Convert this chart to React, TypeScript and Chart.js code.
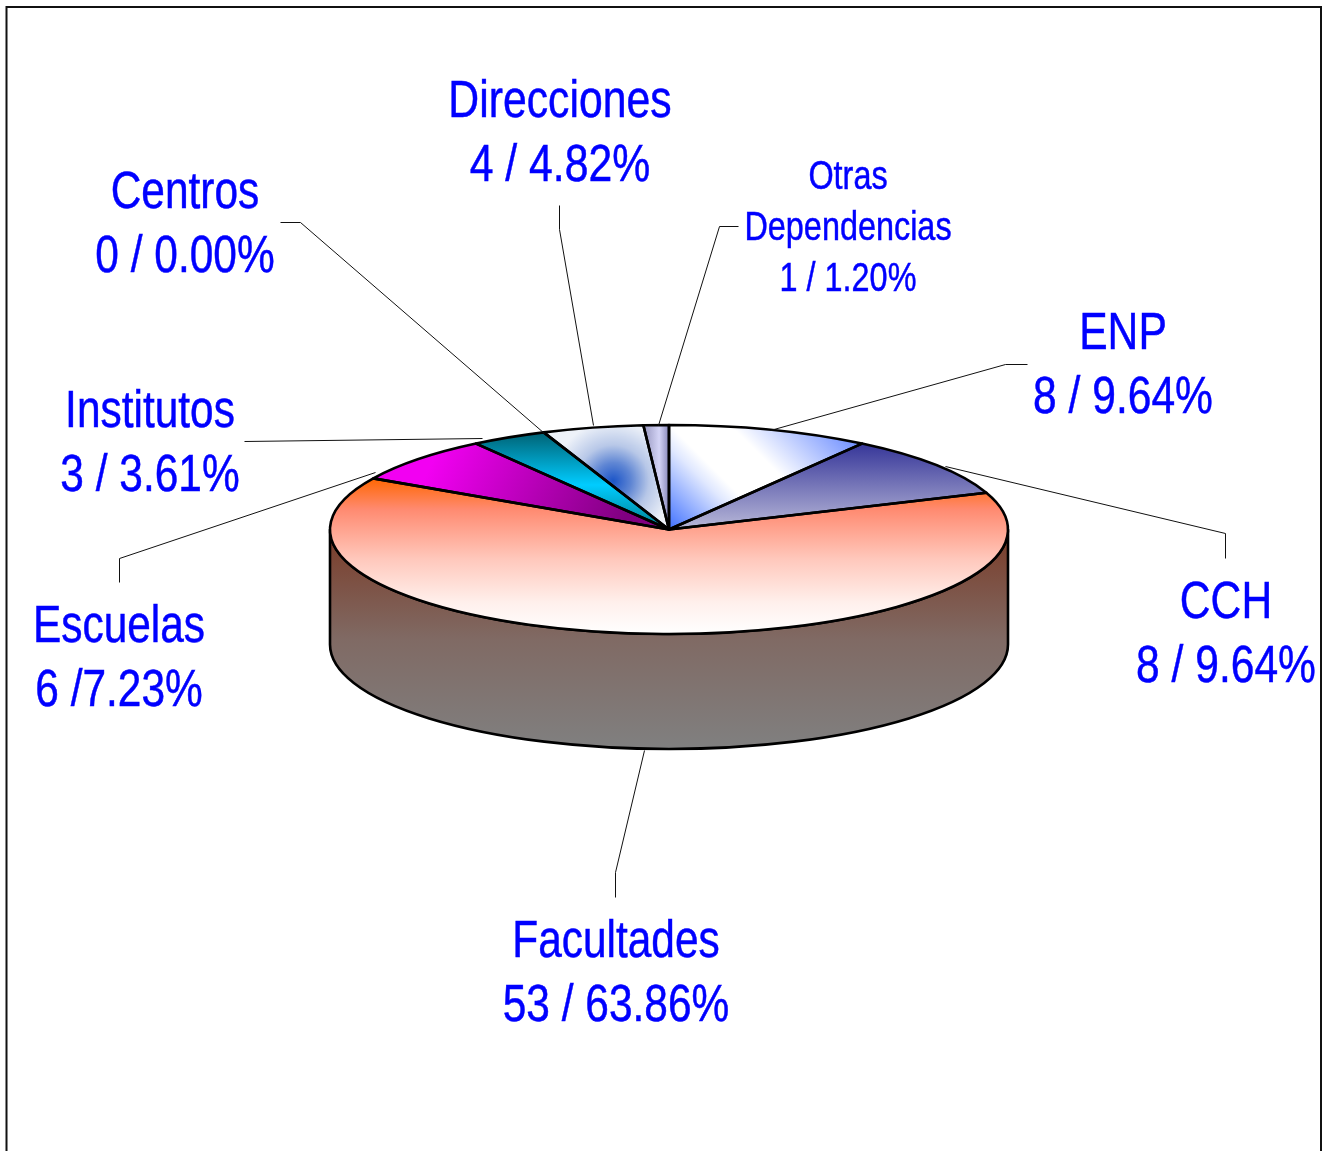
import React, { useEffect, useRef } from "react";
import { Chart, registerables } from "chart.js";

Chart.register(...registerables);

const categories = ["ENP", "CCH", "Facultades", "Escuelas", "Institutos", "Centros", "Direcciones", "Otras Dependencias"];
const counts = [8, 8, 53, 6, 3, 0, 4, 1];
const labelLines = [
  ["ENP", "8 / 9.64%"],
  ["CCH", "8 / 9.64%"],
  ["Facultades", "53 / 63.86%"],
  ["Escuelas", "6 /7.23%"],
  ["Institutos", "3 / 3.61%"],
  ["Centros", "0 / 0.00%"],
  ["Direcciones", "4 / 4.82%"],
  ["Otras", "Dependencias", "1 / 1.20%"],
];

// layout of the labels: centre x, first baseline, line step, font size, horizontal condensing
const labelPlaces = [
  [1123, 349, 64, 51, 0.835],
  [1226, 618, 64, 51, 0.835],
  [616, 957, 64, 51, 0.832],
  [119, 642, 64, 51, 0.832],
  [150, 427, 64, 51, 0.832],
  [185, 208, 64, 51, 0.832],
  [560, 117, 64, 51, 0.838],
  [848, 189, 51, 40, 0.81],
];
const leaderLines = [
  [[1027, 364], [1005, 364], [770, 430]],
  [[1225, 558], [1225, 533], [945, 466]],
  [[615, 897], [615, 872], [644, 750]],
  [[119, 582], [119, 558], [375, 472]],
  [[244, 441], [482, 438]],
  [[280, 222], [300, 222], [544, 433]],
  [[559, 205], [559, 229], [593, 425]],
  [[738, 226], [719, 226], [658, 425]],
];

const W = 1328;
const H = 1151;
const CX = 669;
const CY = 529.5;
const RX = 339;
const RY = 104.5;
const K = RY / RX;
const DEPTH = 115;

const unsquash = (y: number) => CY + (y - CY) / K;

// A linear gradient given in screen coordinates, for a context squashed by K
function screenGradient(ctx: CanvasRenderingContext2D, x0: number, y0: number, x1: number, y1: number, stops: [number, string][]) {
  const gx = x1 - x0;
  const gy = y1 - y0;
  const g2 = gx * gx + gy * gy;
  const vx = gx / g2;
  const vy = (K * gy) / g2;
  const v2 = vx * vx + vy * vy;
  const sy0 = unsquash(y0);
  const gr = ctx.createLinearGradient(x0, sy0, x0 + vx / v2, sy0 + vy / v2);
  stops.forEach(([o, c]) => gr.addColorStop(o, c));
  return gr;
}

function radialPattern(ctx: CanvasRenderingContext2D) {
  const ox = 540;
  const oy = 410;
  const size = 140;
  const off = document.createElement("canvas");
  off.width = size;
  off.height = size;
  const o = off.getContext("2d") as CanvasRenderingContext2D;
  const gr = o.createRadialGradient(613 - ox, 481 - oy, 0, 613 - ox, 481 - oy, 60);
  gr.addColorStop(0, "#1c55c8");
  gr.addColorStop(0.3, "#5f86d4");
  gr.addColorStop(0.6, "#b8c8e8");
  gr.addColorStop(1, "#eef2f9");
  o.fillStyle = gr;
  o.fillRect(0, 0, size, size);
  const p = ctx.createPattern(off, "repeat") as CanvasPattern;
  p.setTransform(new DOMMatrix([1, 0, 0, 1 / K, ox, unsquash(oy)]));
  return p;
}

function sliceFills(ctx: CanvasRenderingContext2D) {
  return [
    screenGradient(ctx, 669, 529, 806.5, 391.5, [[0, "#3f70ff"], [0.3, "#e0e8ff"], [0.38, "#ffffff"], [0.6, "#ffffff"], [1, "#7090ff"]]),
    screenGradient(ctx, 0, 445, 0, 529, [[0, "#38389a"], [1, "#b8b8d8"]]),
    screenGradient(ctx, 0, 478, 0, 634, [[0, "#ff6600"], [0.2, "#ff8a70"], [0.52, "#ffc8bc"], [0.8, "#fff0ec"], [1, "#ffffff"]]),
    screenGradient(ctx, 440, 445, 620, 530, [[0, "#f200f2"], [1, "#800080"]]),
    screenGradient(ctx, 0, 431, 0, 529, [[0, "#005f70"], [0.55, "#00ccff"], [1, "#007f90"]]),
    "#00cccc",
    radialPattern(ctx),
    screenGradient(ctx, 646, 0, 668, 0, [[0, "#a0a0c8"], [0.6, "#d4d4f6"], [1, "#8f8fc0"]]),
  ];
}

const piePlugin = {
  id: "pie3d",
  beforeDraw(chart: any) {
    const { ctx } = chart;
    ctx.save();
    ctx.fillStyle = "#ffffff";
    ctx.fillRect(0, 0, W, H);
    ctx.strokeStyle = "#111111";
    ctx.lineWidth = 2;
    ctx.strokeRect(6.5, 7, 1314.5, 1300);
    ctx.restore();
  },
  beforeDatasetsDraw(chart: any) {
    const { ctx } = chart;
    const arc = chart.getDatasetMeta(0).data[0];
    const cx = arc.x;
    const cy = arc.y;
    const rx = arc.outerRadius;
    const ry = rx * K;
    // side wall
    ctx.save();
    ctx.beginPath();
    ctx.moveTo(cx - rx, cy);
    ctx.lineTo(cx - rx, cy + DEPTH);
    ctx.ellipse(cx, cy + DEPTH, rx, ry, 0, Math.PI, 0, true);
    ctx.lineTo(cx + rx, cy);
    ctx.ellipse(cx, cy, rx, ry, 0, 0, Math.PI, false);
    ctx.closePath();
    const wall = ctx.createLinearGradient(0, cy, 0, cy + DEPTH + ry);
    wall.addColorStop(0, "#7a3a26");
    wall.addColorStop(0.5, "#806a64");
    wall.addColorStop(1, "#808080");
    ctx.fillStyle = wall;
    ctx.fill();
    ctx.strokeStyle = "#000000";
    ctx.lineWidth = 2.6;
    ctx.lineJoin = "round";
    ctx.stroke();
    ctx.restore();
    // the slices themselves are drawn by the library, squashed to the ellipse
    ctx.save();
    ctx.translate(cx, cy);
    ctx.scale(1, K);
    ctx.translate(-cx, -cy);
  },
  afterDatasetsDraw(chart: any) {
    const { ctx } = chart;
    ctx.restore();
    const meta = chart.getDatasetMeta(0);
    ctx.save();
    ctx.strokeStyle = "#000000";
    ctx.lineWidth = 2.6;
    ctx.lineJoin = "round";
    meta.data.forEach((a: any) => {
      if (a.endAngle - a.startAngle < 1e-6) return;
      ctx.beginPath();
      ctx.moveTo(a.x, a.y);
      ctx.ellipse(a.x, a.y, a.outerRadius, a.outerRadius * K, 0, a.startAngle, a.endAngle, false);
      ctx.closePath();
      ctx.stroke();
    });
    ctx.restore();
    // leader lines
    ctx.save();
    ctx.strokeStyle = "#111111";
    ctx.lineWidth = 1;
    leaderLines.forEach((pts) => {
      ctx.beginPath();
      pts.forEach(([x, y], i) => (i ? ctx.lineTo(x + 0.5, y + 0.5) : ctx.moveTo(x + 0.5, y + 0.5)));
      ctx.stroke();
    });
    ctx.restore();
    // labels
    ctx.save();
    ctx.fillStyle = "#0000ff";
    ctx.strokeStyle = "#0000ff";
    ctx.lineWidth = 0.5;
    ctx.textAlign = "center";
    ctx.textBaseline = "alphabetic";
    labelLines.forEach((lines, i) => {
      const [x, y, step, size, sx] = labelPlaces[i];
      ctx.font = `${size}px "Liberation Sans"`;
      lines.forEach((line, j) => {
        ctx.save();
        ctx.translate(x, y + j * step);
        ctx.scale(sx, 1);
        ctx.fillText(line, 0, 0);
        ctx.strokeText(line, 0, 0);
        ctx.restore();
      });
    });
    ctx.restore();
  },
};

export default function App() {
  const ref = useRef<HTMLCanvasElement>(null);
  useEffect(() => {
    const canvas = ref.current as HTMLCanvasElement;
    const ctx = canvas.getContext("2d") as CanvasRenderingContext2D;
    const chart = new Chart(canvas, {
      type: "pie",
      data: {
        labels: categories,
        datasets: [{ data: counts, backgroundColor: sliceFills(ctx) as any, borderWidth: 0, radius: RX } as any],
      },
      options: {
        responsive: false,
        animation: false,
        events: [],
        layout: { padding: { left: 2 * CX - W, right: 0, top: 0, bottom: H - 2 * CY } },
        plugins: { legend: { display: false }, tooltip: { enabled: false } },
      },
      plugins: [piePlugin],
    } as any);
    return () => chart.destroy();
  }, []);
  return (
    <canvas
      ref={ref}
      width={W}
      height={H}
      style={{ position: "absolute", left: 0, top: 0, width: W, height: H, display: "block" }}
    />
  );
}
